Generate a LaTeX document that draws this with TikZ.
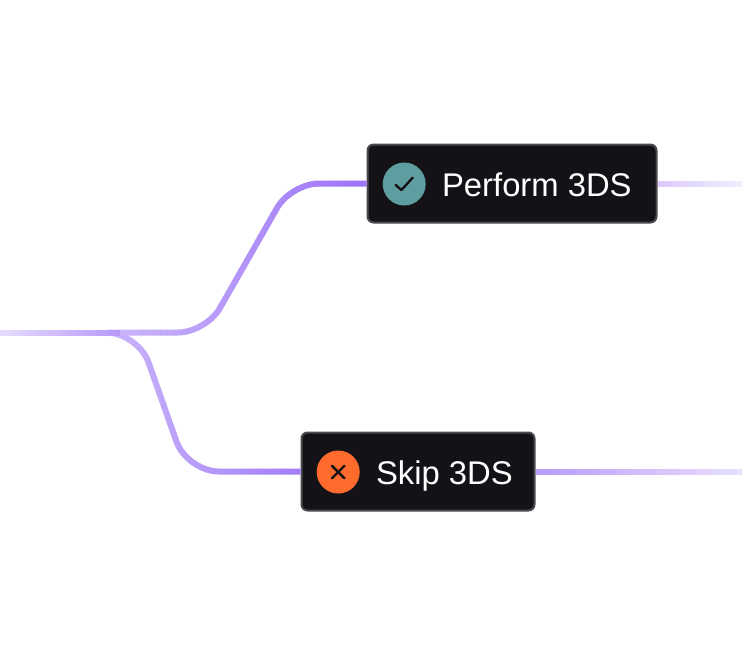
\documentclass[tikz,border=0pt]{standalone}
\usepackage{fontspec}
\setmainfont{Liberation Sans}
\usetikzlibrary{positioning}
\definecolor{connpurple}{HTML}{9B72F7}
\definecolor{boxfill}{HTML}{141216}
\definecolor{boxline}{HTML}{4A4A4F}
\definecolor{iconink}{HTML}{141216}
\definecolor{okteal}{HTML}{5F9EA0}
\definecolor{skiporange}{HTML}{FF6B2C}
% connector whose tint runs from #3 at x=#1 to #4 at x=#2, cut in strips
\newcommand{\stripconn}[5]{%
  \foreach \k [evaluate=\k as \xa using #1+(#2-#1)*\k/40,
               evaluate=\k as \xb using #1+(#2-#1)*(\k+1)/40+0.5,
               evaluate=\k as \tint using #3+(#4-#3)*(\k+0.5)/40] in {0,...,39} {
    \begin{scope}
      \clip (\xa,0) rectangle (\xb,654);
      \draw[conn,draw=connpurple!\tint!white] #5;
    \end{scope}
  }%
}
\begin{document}
\begin{tikzpicture}[
      x=1pt,y=-1pt,
      node distance=15pt and 15pt,
      box/.style={draw=boxline,fill=boxfill,line width=2pt,rounded corners=6pt,inner sep=0pt},
      icon/.style={circle,minimum size=43pt,inner sep=0pt,yshift=-.5pt},
      lbl/.style={text=white,font=\fontsize{32.8}{36}\selectfont,inner sep=0pt,
                  text height=23pt,text depth=0pt,yshift=-.5pt},
      conn/.style={line width=6pt},
      glyphline/.style={draw=iconink,line width=2.4pt,line cap=round,line join=round},
    ]
      \useasboundingbox (0,0) rectangle (742,654);
      \node[box,minimum width=289pt,minimum height=78pt] (perform) at (512,183.5) {};
      \node[box,minimum width=233pt,minimum height=78pt] (skip) at (418,471.5) {};
      \node[icon,fill=okteal,right=16pt of perform.west] (okicon) {};
      \node[icon,fill=skiporange,right=16pt of skip.west] (skipicon) {};
      \node[lbl,right=16pt of okicon] (performlbl) {Perform 3DS};
      \node[lbl,right=16pt of skipicon] (skiplbl) {Skip 3DS};
      \draw[glyphline] ([shift={(-8.5,1)}]okicon.center) -- ++(5.7,5) -- ++(11.3,-12.3);
      \draw[glyphline] ([shift={(-6.3,-6.3)}]skipicon.center) -- ++(12.6,12.6);
      \draw[glyphline] ([shift={(6.3,-6.3)}]skipicon.center) -- ++(-12.6,12.6);
      \coordinate (start) at (0,332.5);
      \coordinate (fork) at (108,332.5);
      \coordinate (stemend) at (120,332.5);
      \coordinate (performend) at (742,183.5);
      \coordinate (skipend) at (742,471.5);
      % the two branches, then the stem over them
      \stripconn{108}{368}{50}{100}{[rounded corners=28pt] (fork) -- (206,332.5) -- (291,183.5) -- (perform.west)}
      \stripconn{108}{302}{52}{92}{[rounded corners=32pt] (fork) -- (138,332.5) -- (187,471.5) -- (skip.west)}
      \stripconn{0}{120}{25}{72}{(start) -- (stemend)}
      % outgoing lines
      \stripconn{657}{742}{38}{12}{(perform.east) -- (performend)}
      \stripconn{535}{742}{71}{22}{(skip.east) -- (skipend)}
    \end{tikzpicture}
\end{document}
